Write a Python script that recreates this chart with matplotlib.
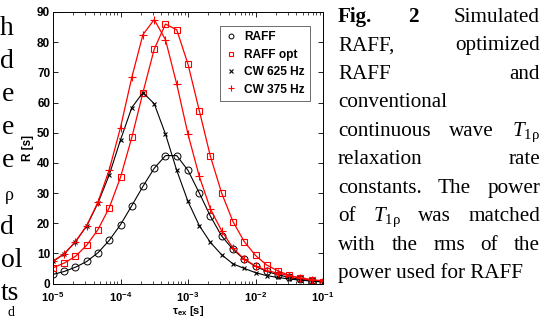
import matplotlib
matplotlib.use('Agg')
import matplotlib.pyplot as plt
from matplotlib.lines import Line2D

plt.rcParams['font.family'] = 'Liberation Sans'
plt.rcParams['mathtext.fontset'] = 'custom'
plt.rcParams['mathtext.rm'] = 'Liberation Serif:weight=normal'
plt.rcParams['mathtext.it'] = 'Liberation Serif:style=italic:weight=normal'
plt.rcParams['mathtext.bf'] = 'Liberation Sans:weight=bold'

# exchange correlation time [s], 6 points per decade
tau_ex = [1.00e-5, 1.47e-5, 2.15e-5, 3.16e-5, 4.64e-5, 6.81e-5,
          1.00e-4, 1.47e-4, 2.15e-4, 3.16e-4, 4.64e-4, 6.81e-4,
          1.00e-3, 1.47e-3, 2.15e-3, 3.16e-3, 4.64e-3, 6.81e-3,
          1.00e-2, 1.47e-2, 2.15e-2, 3.16e-2, 4.64e-2, 6.81e-2,
          1.00e-1]

raff = [3.0, 4.0, 5.4, 7.3, 10.2, 14.3, 19.5, 25.8, 32.2, 38.2, 42.4, 42.4, 37.5,
        30.0, 22.3, 15.7, 11.3, 8.0, 5.7, 4.0, 2.9, 2.0, 1.4, 0.9, 0.6]
raff_opt = [5.2, 6.8, 9.0, 12.7, 17.9, 25.1, 35.2, 48.4, 63.3, 77.7, 86.0, 84.1, 72.7,
            57.3, 42.1, 29.9, 20.5, 13.9, 9.3, 6.1, 4.2, 2.7, 1.7, 1.0, 0.6]
cw_625 = [7.3, 9.8, 13.8, 19.1, 26.7, 36.0, 47.6, 58.3, 63.3, 59.6, 49.5, 37.5, 27.2,
          19.2, 13.6, 9.5, 6.5, 5.0, 3.6, 2.6, 2.0, 1.5, 1.1, 0.8, 0.5]
cw_375 = [7.4, 9.9, 13.9, 19.2, 27.0, 37.7, 51.7, 68.3, 82.5, 87.5, 80.8, 66.1, 49.5,
          35.5, 24.7, 17.4, 11.7, 8.1, 5.8, 4.3, 3.4, 2.6, 1.9, 1.3, 0.9]

series_names = ['RAFF', 'RAFF opt', 'CW 625 Hz', 'CW 375 Hz']
xticks = [1e-5, 1e-4, 1e-3, 1e-2, 1e-1]
xtick_labels = [r'$\mathbf{10^{-5}}$', r'$\mathbf{10^{-4}}$', r'$\mathbf{10^{-3}}$',
                r'$\mathbf{10^{-2}}$', r'$\mathbf{10^{-1}}$']
yticks = [0, 10, 20, 30, 40, 50, 60, 70, 80, 90]

T1rho = r'$T_{\mathrm{1\rho}}$'
caption_lines = [
    ['Fig.', '2', 'Simulated'],
    ['RAFF,', 'optimized'],
    ['RAFF', 'and'],
    ['conventional'],
    ['continuous', 'wave', T1rho],
    ['relaxation', 'rate'],
    ['constants.', 'The', 'power'],
    ['of', T1rho, 'was', 'matched'],
    ['with', 'the', 'rms', 'of', 'the'],
    ['power used for RAFF'],
]
# ends of the neighbouring column, cut by the page edge
left_bits = ['h', 'd', 'e', 'e', 'e', 'ρ', 'd', 'ol', 'ts', 'd']

W, H = 557, 320
fig = plt.figure(figsize=(W / 100, H / 100), dpi=100)
ax = fig.add_axes([53 / W, 1 - 283.5 / H, 270 / W, 271.5 / H])

ax.plot(tau_ex, raff, color='k', marker='o', mfc='none', ms=5, mew=0.7, lw=0.8)
ax.plot(tau_ex, raff_opt, color='r', marker='s', mfc='none', ms=4.5, mew=0.8, lw=0.9)
ax.plot(tau_ex, cw_625, color='k', marker='x', ms=3.5, mew=0.8, lw=0.8)
ax.plot(tau_ex, cw_375, color='r', marker='+', ms=6, mew=0.8, lw=0.9)

ax.set_xscale('log')
ax.set_xlim(1e-5, 1e-1)
ax.set_ylim(0, 90)
ax.set_xticks(xticks)
ax.set_xticklabels(xtick_labels, fontsize=8)
ax.set_yticks(yticks)
ax.set_yticklabels([str(v) for v in yticks], fontsize=8.5, fontweight='bold')
ax.tick_params(which='both', direction='in', top=True, right=True)
ax.tick_params(axis='y', pad=2)
ax.tick_params(axis='x', pad=4.5)
ax.tick_params(which='major', length=3.5, width=0.6)
ax.tick_params(which='minor', length=2, width=0.5)
for s in ax.spines.values():
    s.set_linewidth(0.7)
ax.set_xlabel(r'$\mathbf{\tau_{ex}}$ [s]', fontsize=8, fontweight='bold')
ax.set_ylabel('R [s]', fontsize=8.5, fontweight='bold', labelpad=2.5)

handles = [
    Line2D([], [], ls='none', color='k', marker='o', mfc='none', ms=3.5, mew=0.7),
    Line2D([], [], ls='none', color='r', marker='s', mfc='none', ms=3.5, mew=0.8),
    Line2D([], [], ls='none', color='k', marker='x', ms=3, mew=0.8),
    Line2D([], [], ls='none', color='r', marker='+', ms=5, mew=0.8),
]
leg = ax.legend(handles, series_names, loc='upper right', bbox_to_anchor=(0.952, 0.948),
                prop={'size': 8.6, 'weight': 'bold'}, frameon=True, fancybox=False,
                framealpha=1, handlelength=1.0, handletextpad=0.6, labelspacing=0.45,
                borderpad=0.45, borderaxespad=0)
leg.get_frame().set_edgecolor('#555555')
leg.get_frame().set_linewidth(0.6)

# put the x label right under the tick labels (little room at the bottom)
fig.canvas.draw()
renderer = fig.canvas.get_renderer()
ax_box = ax.get_window_extent(renderer)
tl_bottom = min(t.get_window_extent(renderer).y0 for t in ax.get_xticklabels())
ax.xaxis.set_label_coords(0.5, (tl_bottom - 0.5 - ax_box.y0) / ax_box.height)

# justified caption on the right
x0, x1 = 338, 540
for i, words in enumerate(caption_lines):
    yb = 21.7 + 28.5 * i
    texts = []
    for j, w in enumerate(words):
        bold = i == 0 and j < 2
        t = fig.text(x0 / W, 1 - yb / H, w, fontsize=15.2, family='Liberation Serif',
                     fontweight='bold' if bold else 'normal', va='baseline')
        texts.append(t)
    if len(texts) > 1:
        widths = [t.get_window_extent(renderer).width for t in texts]
        gap = (x1 - x0 - sum(widths)) / (len(texts) - 1)
        x = x0
        for t, wd in zip(texts, widths):
            t.set_x(x / W)
            x += wd + gap

for i, bit in enumerate(left_bits):
    yb = 35 + 33.1 * i
    size = 20
    if bit == 'ρ':
        size = 13
    if i == len(left_bits) - 1:
        # last line is mostly below the page edge, only its top shows
        yb, size = 315.5, 10
    if len(bit) > 1:
        fig.text(0.5 / W, 1 - yb / H, bit, fontsize=size, family='Liberation Serif',
                 ha='left', va='baseline')
    else:
        fig.text(14 / W, 1 - yb / H, bit, fontsize=size, family='Liberation Serif',
                 ha='right', va='baseline')

fig.savefig('out.png', dpi=100)
